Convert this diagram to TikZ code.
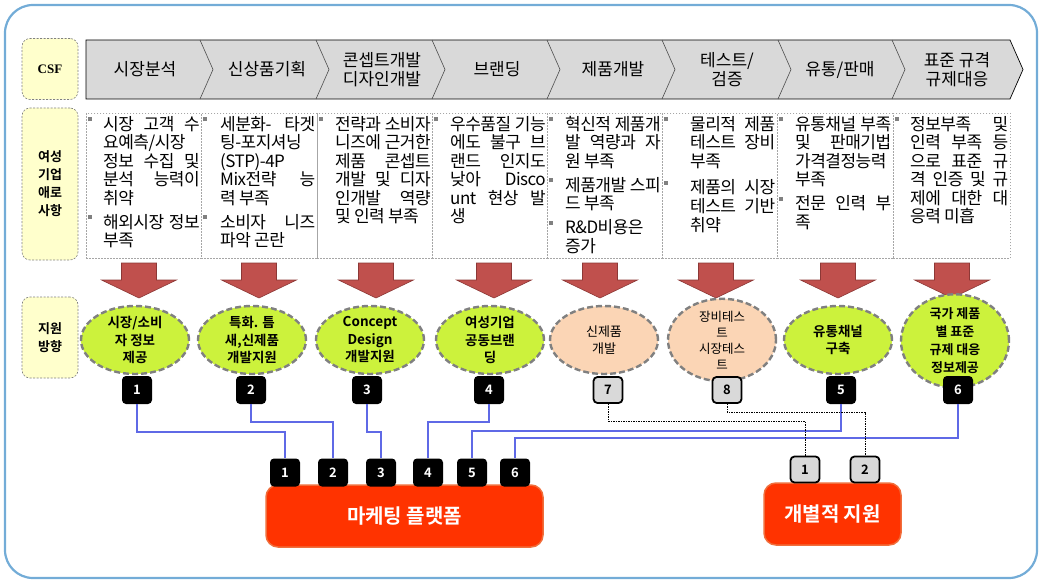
\documentclass[tikz,border=0pt]{standalone}
\usepackage{fontspec}
\setmainfont{Noto Sans CJK KR}[BoldFont={Noto Sans CJK KR Bold}]
\newfontfamily\csffont{Liberation Serif}
\newfontfamily\rowfont{Noto Sans CJK KR}[LetterSpace=-3]
\usetikzlibrary{shapes.geometric}
\definecolor{frameblue}{RGB}{115,172,215}
\definecolor{labelyel}{RGB}{255,255,204}
\definecolor{chevgray}{RGB}{217,217,217}
\definecolor{arrred}{RGB}{192,80,77}
\definecolor{arrdark}{RGB}{140,56,54}
\definecolor{ellgreen}{RGB}{204,242,60}
\definecolor{ellpeach}{RGB}{251,213,181}
\definecolor{linkblue}{RGB}{95,105,230}
\definecolor{platred}{RGB}{255,51,0}
\definecolor{platborder}{RGB}{240,110,60}
\definecolor{bulgray}{RGB}{128,128,128}
\definecolor{badgegray}{RGB}{217,217,217}
\newlength\bigap
\newcommand{\bi}{\noindent\llap{\textcolor{bulgray}{\rule[9pt]{4pt}{4pt}}\hspace{\bigap}}}
\newcommand{\colset}[1]{\leftskip=#1pt\rightskip=0pt\parfillskip=0pt plus 1fil\parskip=5.5pt\parindent=0pt\tolerance=10000\hbadness=10000\spaceskip=3.2pt plus 30pt minus 1.5pt\xspaceskip=3.2pt plus 30pt minus 1.5pt\bigap=\dimexpr #1pt-6pt\relax}
\begin{document}
\begin{tikzpicture}[x=1pt,y=-1pt,
  lblbox/.style={draw=gray, dash pattern=on 2pt off 1.5pt, fill=labelyel, rounded corners=8pt, line width=0.6pt, minimum width=56, align=center, inner sep=0, font=\bfseries\fontsize{13}{18}\selectfont},
  cellbox/.style={draw=gray!70, dash pattern=on 1.5pt off 1.5pt, line width=0.5pt, minimum height=145, inner sep=0},
  ctext/.style={anchor=base west, inner sep=0, text width=#1, font=\rowfont\fontsize{17}{18.5}\selectfont},
  head/.style={align=center, inner sep=0, font=\fontsize{17}{19.5}\selectfont},
  bigarrow/.style={fill=arrred, draw=arrdark, line width=0.6pt},
  ellbox/.style={ellipse, fill=#1, draw=gray, line width=2.4pt, dash pattern=on 6pt off 3pt, minimum width=108, minimum height=68, inner sep=0, align=center},
  badge/.style={rounded corners=4pt, fill=black, text=white, minimum width=30, minimum height=28, inner sep=0, font=\bfseries\fontsize{13}{13}\selectfont},
  gbadge/.style={rounded corners=4pt, fill=badgegray, draw=black, line width=1.8pt, text=black, minimum width=29, minimum height=26, inner sep=0, font=\bfseries\fontsize{13}{13}\selectfont},
  platform/.style={rounded corners=12pt, fill=platred, draw=platborder, line width=1.5pt, text=white, inner sep=0, font=\bfseries\fontsize{20}{20}\selectfont},
  bluelink/.style={draw=linkblue, line width=1.1pt},
  dashlink/.style={draw=black, line width=0.8pt, dash pattern=on 1.5pt off 1pt}
]
\useasboundingbox (0,0) rectangle (1040,580);
% outer frame
\draw[frameblue, line width=2.2pt, rounded corners=28pt] (5,5) rectangle (1037,578);

% header chevron row
\draw[fill=chevgray, draw=black, line width=0.7pt] (86,40) -- (1010,40) -- (1023,69.5) -- (1010,99) -- (86,99) -- cycle;
\foreach \bx in {200,316,432,547,662,778,892}
  \draw[black!70, line width=0.6pt] (\bx,40) -- (\bx+13,69.5) -- (\bx,99);
\node[head] (h1) at (145,69.5) {시장분석};
\node[head] (h2) at (267,69.5) {신상품기획};
\node[head] (h3) at (382,69.5) {콘셉트개발\\디자인개발};
\node[head] (h4) at (497,69.5) {브랜딩};
\node[head] (h5) at (613,69.5) {제품개발};
\node[head] (h6) at (727,69.5) {테스트/\\검증};
\node[head] (h7) at (840,69.5) {유통/판매};
\node[head] (h8) at (957,69.5) {표준 규격\\규제대응};

% label boxes
\node[lblbox, minimum height=61, font=\csffont\bfseries\fontsize{13}{13}\selectfont] (lcsf) at (50,69) {CSF};
\node[lblbox, minimum height=152] (lhard) at (50,184) {여성\\기업\\애로\\사항};
\node[lblbox, minimum height=81] (ldir) at (50,337.5) {지원\\방향};

% cells
\node[cellbox, minimum width=115, anchor=north west] (c1) at (86,113) {};
\node[cellbox, minimum width=116, anchor=north west] (c2) at (201,113) {};
\node[cellbox, minimum width=115, anchor=north west] (c3) at (317,113) {};
\node[cellbox, minimum width=115, anchor=north west] (c4) at (432,113) {};
\node[cellbox, minimum width=115, anchor=north west] (c5) at (547,113) {};
\node[cellbox, minimum width=115, anchor=north west] (c6) at (662,113) {};
\node[cellbox, minimum width=116, anchor=north west] (c7) at (777,113) {};
\node[cellbox, minimum width=117, anchor=north west] (c8) at (893,113) {};

\node[ctext=113.5] (t1) at (86,130.5) {\colset{17}\bi 시장 고객 수\break 요예측/시장\break 정보 수집 및\break 분석 능력이\break 취약\par\bi 해외시장 정보\break 부족\par};
\node[ctext=114] (t2) at (201,130.5) {\colset{19}\bi 세분화- 타겟\break 팅-포지셔닝\break (STP)-4P\break Mix전략 능\break 력 부족\par\bi 소비자 니즈\break 파악 곤란\par};
\node[ctext=113.5] (t3) at (317,130.5) {\colset{18}\bi 전략과 소비자\break 니즈에 근거한\break 제품 콘셉트\break 개발 및 디자\break 인개발 역량\break 및 인력 부족\par};
\node[ctext=113.5] (t4) at (432,130.5) {\colset{18}\bi 우수품질 기능\break 에도 불구 브\break 랜드 인지도\break 낮아\ \ Disco\break unt 현상 발\break 생\par};
\node[ctext=113.5] (t5) at (547,130.5) {\colset{18}\bi 혁신적 제품개\break 발 역량과 자\break 원 부족\par\bi 제품개발 스피\break 드 부족\par\bi R\&D비용은\break 증가\par};
\node[ctext=113] (t6) at (662,130.5) {\colset{28}\parskip=8pt\bi 물리적 제품\break 테스트 장비\break 부족\par\bi 제품의 시장\break 테스트 기반\break 취약\par};
\node[ctext=114] (t7) at (777,130.5) {\colset{18}\bi 유통채널 부족\break 및 판매기법\break 가격결정능력\break 부족\par\bi 전문 인력 부\break 족\par};
\node[ctext=115] (t8) at (893,130.5) {\colset{17}\bi 정보부족 및\break 인력 부족 등\break 으로 표준 규\break 격 인증 및 규\break 제에 대한 대\break 응력 미흡\par};

% big red arrows
\foreach \x in {139,259,376,494,600,716,838,952}
  \draw[bigarrow] (\x-17.5,263) -- (\x+17.5,263) -- (\x+17.5,280) -- (\x+37.5,280) -- (\x,298) -- (\x-37.5,280) -- (\x-17.5,280) -- cycle;

% ellipses
\node[ellbox=ellgreen, font=\bfseries\fontsize{13.5}{17.5}\selectfont] (e1) at (135,340) {시장/소비\\자 정보\\제공};
\node[ellbox=ellgreen, font=\bfseries\fontsize{13.5}{17.5}\selectfont] (e2) at (252,340) {특화. 틈\\새,신제품\\개발지원};
\node[ellbox=ellgreen, font=\bfseries\fontsize{13.5}{17.5}\selectfont] (e3) at (370,340) {Concept\\Design\\개발지원};
\node[ellbox=ellgreen, font=\bfseries\fontsize{13.5}{17.5}\selectfont] (e4) at (490,340) {여성기업\\공동브랜\\딩};
\node[ellbox=ellpeach, font=\fontsize{13}{17.5}\selectfont] (e5) at (604,340) {신제품\\개발};
\node[ellbox=ellpeach, font=\fontsize{12.5}{16}\selectfont] (e6) at (722,340) {장비테스\\트\\시장테스\\트};
\node[ellbox=ellgreen, font=\bfseries\fontsize{13.5}{17.5}\selectfont] (e7) at (838,340) {유통채널\\구축};
\node[ellbox=ellgreen, font=\bfseries\fontsize{13}{18}\selectfont] (e8) at (955,341) {국가 제품\\별 표준\\규제 대응\\정보제공};

% number badges under ellipses
\node[badge] (n1) at (137,390) {1};
\node[badge] (n2) at (251,390) {2};
\node[badge] (n3) at (367,390) {3};
\node[badge] (n4) at (489,390) {4};
\node[gbadge] (n7) at (608,390) {7};
\node[gbadge] (n8) at (727,390) {8};
\node[badge] (n5) at (841,390) {5};
\node[badge] (n6) at (958,390) {6};

% platforms
\node[platform, minimum width=277, minimum height=62] (plat) at (404.5,516) {마케팅 플랫폼};
\node[platform, minimum width=137, minimum height=62] (indiv) at (832.5,514) {개별적 지원};

% platform badges
\node[badge] (p1) at (285,472.5) {1};
\node[badge] (p2) at (333,472.5) {2};
\node[badge] (p3) at (381,472.5) {3};
\node[badge] (p4) at (428,472.5) {4};
\node[badge] (p5) at (472,472.5) {5};
\node[badge] (p6) at (515,472.5) {6};
\node[gbadge] (g1) at (805,469.5) {1};
\node[gbadge] (g2) at (865,469.5) {2};

% connectors
\draw[bluelink] (n1.south) -- (n1.south |- 0,432) -- (p1.north |- 0,432) -- (p1.north);
\draw[bluelink] (n2.south) -- (n2.south |- 0,422) -- (p2.north |- 0,422) -- (p2.north);
\draw[bluelink] (n3.south) -- (n3.south |- 0,432) -- (p3.north |- 0,432) -- (p3.north);
\draw[bluelink] (n4.south) -- (n4.south |- 0,422) -- (p4.north |- 0,422) -- (p4.north);
\draw[bluelink] (n5.south) -- (n5.south |- 0,431) -- (p5.north |- 0,431) -- (p5.north);
\draw[bluelink] (n6.south) -- (n6.south |- 0,438) -- (p6.north |- 0,438) -- (p6.north);
\draw[dashlink] (n7.south) -- (n7.south |- 0,421) -- (g1.north |- 0,421) -- (g1.north);
\draw[dashlink] (n8.south) -- (n8.south |- 0,412) -- (g2.north |- 0,412) -- (g2.north);
\end{tikzpicture}
\end{document}
